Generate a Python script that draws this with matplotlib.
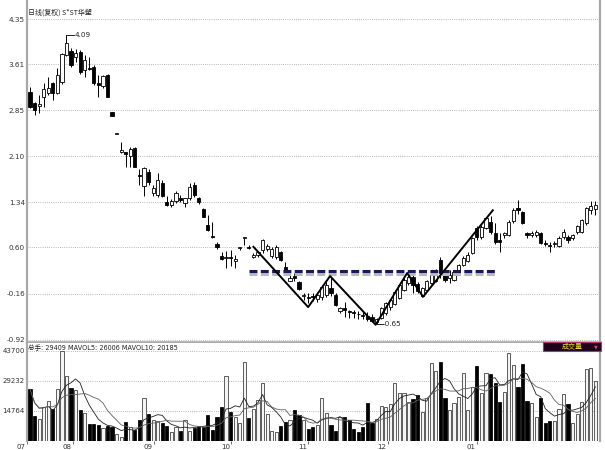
import matplotlib
matplotlib.use('Agg')
import matplotlib.pyplot as plt
import matplotlib.transforms as mtransforms
from matplotlib.patches import Rectangle
import numpy as np
import pandas as pd

plt.rcParams['font.family'] = ['DejaVu Sans', 'Noto Sans CJK SC']

# ---------------- data ----------------
opens = [3.15, 2.97, 2.92, 3.07, 3.13, 3.30, 3.13, 3.31, 3.76, 3.82,
         3.72, 3.81, 3.51, 3.55, 3.56, 3.30, 3.25, 3.43, 2.82, 2.46,
         2.16, 2.17, 2.10, 2.23, 1.78, 1.61, 1.84, 1.50, 1.46, 1.66,
         1.35, 1.30, 1.36, 1.41, 1.33, 1.41, 1.62, 1.41, 1.23, 0.97,
         0.78, 0.66, 0.46, 0.43, 0.44, 0.37, 0.59, 0.75, 0.61, 0.44,
         0.47, 0.56, 0.58, 0.46, 0.45, 0.52, 0.28, 0.05, 0.13, 0.03,
         -0.20, -0.22, -0.20, -0.25, -0.22, -0.18, -0.07, -0.18, -0.45, -0.40,
         -0.45, -0.47, -0.49, -0.51, -0.53, -0.55, -0.62, -0.56, -0.48, -0.38,
         -0.33, -0.23, -0.10, 0.02, 0.11, 0.00, -0.20, -0.10, 0.02, 0.05,
         0.39, 0.20, 0.10, 0.07, 0.18, 0.31, 0.38, 0.51, 0.92, 0.77,
         0.92, 1.02, 0.84, 0.72, 0.80, 0.80, 1.03, 1.25, 1.18, 0.84,
         0.80, 0.81, 0.84, 0.67, 0.64, 0.65, 0.62, 0.77, 0.77, 0.75,
         0.85, 0.85, 1.00, 1.22, 1.23]
highs = [3.23, 2.99, 3.10, 3.30, 3.40, 3.32, 3.55, 3.79, 4.09, 3.87,
         3.85, 3.84, 3.76, 3.73, 3.59, 3.43, 3.43, 3.45, 2.82, 2.46,
         2.33, 2.17, 2.25, 2.25, 1.88, 1.92, 1.88, 1.62, 1.82, 1.70,
         1.44, 1.40, 1.52, 1.46, 1.41, 1.65, 1.68, 1.43, 1.24, 1.13,
         1.02, 0.69, 0.52, 0.54, 0.56, 0.48, 0.60, 0.77, 0.64, 0.51,
         0.54, 0.74, 0.66, 0.61, 0.64, 0.54, 0.36, 0.15, 0.18, 0.05,
         -0.15, -0.15, -0.15, -0.14, -0.02, 0.04, 0.12, -0.15, -0.38, -0.30,
         -0.43, -0.43, -0.45, -0.46, -0.46, -0.50, -0.56, -0.38, -0.29, -0.24,
         -0.10, 0.00, 0.10, 0.18, 0.14, 0.03, -0.05, 0.07, 0.18, 0.25,
         0.44, 0.23, 0.23, 0.22, 0.33, 0.46, 0.52, 0.77, 0.95, 0.97,
         1.10, 1.12, 1.00, 0.84, 0.85, 1.05, 1.24, 1.38, 1.20, 0.86,
         0.87, 0.88, 0.85, 0.72, 0.69, 0.70, 0.78, 0.90, 0.80, 0.82,
         0.97, 1.07, 1.26, 1.36, 1.36]
lows = [2.89, 2.77, 2.81, 2.90, 3.10, 3.02, 3.12, 3.28, 3.74, 3.57,
        3.65, 3.44, 3.40, 3.51, 3.27, 3.07, 3.22, 3.07, 2.76, 2.46,
        2.15, 1.92, 1.92, 1.92, 1.62, 1.45, 1.62, 1.45, 1.43, 1.43,
        1.28, 1.27, 1.33, 1.35, 1.26, 1.38, 1.43, 1.32, 1.10, 0.87,
        0.76, 0.57, 0.39, 0.26, 0.29, 0.26, 0.56, 0.64, 0.57, 0.43,
        0.44, 0.51, 0.54, 0.43, 0.41, 0.38, 0.20, 0.05, 0.05, -0.10,
        -0.26, -0.31, -0.28, -0.30, -0.26, -0.22, -0.20, -0.36, -0.47, -0.55,
        -0.56, -0.56, -0.58, -0.58, -0.60, -0.63, -0.65, -0.58, -0.51, -0.42,
        -0.35, -0.25, -0.12, -0.02, -0.15, -0.15, -0.21, -0.12, 0.00, 0.03,
        0.10, 0.03, 0.02, 0.05, 0.15, 0.29, 0.36, 0.49, 0.72, 0.74,
        0.90, 0.82, 0.66, 0.52, 0.75, 0.78, 1.00, 1.15, 0.98, 0.76,
        0.77, 0.77, 0.66, 0.62, 0.53, 0.60, 0.60, 0.74, 0.67, 0.72,
        0.82, 0.83, 0.97, 1.15, 1.14]
closes = [2.90, 2.86, 2.95, 3.20, 3.22, 3.13, 3.43, 3.78, 3.95, 3.59,
          3.79, 3.48, 3.68, 3.53, 3.30, 3.27, 3.41, 3.07, 2.76, 2.46,
          2.20, 2.13, 2.22, 1.92, 1.77, 1.90, 1.67, 1.57, 1.71, 1.44,
          1.30, 1.36, 1.49, 1.38, 1.41, 1.59, 1.46, 1.35, 1.10, 0.89,
          0.77, 0.61, 0.41, 0.43, 0.43, 0.41, 0.59, 0.75, 0.59, 0.48,
          0.52, 0.72, 0.62, 0.57, 0.61, 0.39, 0.23, 0.10, 0.09, -0.08,
          -0.19, -0.23, -0.22, -0.18, -0.05, -0.02, -0.15, -0.35, -0.40, -0.43,
          -0.46, -0.48, -0.50, -0.52, -0.57, -0.61, -0.58, -0.40, -0.31, -0.26,
          -0.13, -0.02, 0.07, 0.12, -0.02, -0.12, -0.07, 0.05, 0.15, 0.20,
          0.18, 0.07, 0.15, 0.20, 0.31, 0.43, 0.48, 0.75, 0.77, 0.94,
          1.08, 0.85, 0.69, 0.69, 0.84, 1.02, 1.21, 1.21, 1.00, 0.80,
          0.84, 0.85, 0.67, 0.65, 0.62, 0.67, 0.75, 0.85, 0.72, 0.80,
          0.95, 1.05, 1.24, 1.28, 1.30]
volumes = [25200, 12350, 10900, 16840, 19580, 15720, 25200, 43680, 31630, 25680,
           24880, 15240, 13630, 8490, 8490, 8010, 6400, 7690, 6880, 3670,
           2060, 9290, 6880, 5600, 10420, 20860, 13310, 10420, 9940, 8810,
           7530, 4790, 6880, 5280, 10420, 5280, 6400, 7530, 6880, 12830,
           5600, 11700, 16840, 31630, 14430, 11700, 8810, 38210, 11220, 15560,
           20060, 28410, 13310, 5280, 4790, 7530, 9610, 10420, 15240, 12830,
           10420, 5920, 7200, 8010, 20860, 13950, 8010, 5280, 12020, 11700,
           10420, 5920, 4790, 6880, 18770, 9130, 10740, 17170, 16840, 18130,
           28410, 23270, 23270, 19250, 20380, 22470, 14430, 20860, 37730, 34200,
           38530, 20860, 15240, 18770, 21660, 32910, 15240, 26480, 36450, 23270,
           33230, 32590, 28410, 19250, 24070, 42550, 36930, 26480, 37410, 19740,
           18450, 11700, 20860, 8810, 9940, 10100, 15560, 22950, 17970, 9130,
           13310, 19250, 34840, 35320, 29409]

month_labels = ['07', '08', '09', '10', '11', '12', '01']
month_tick_idx = [-0.6, 9.4, 27.2, 44.1, 61.0, 78.5, 98.0]
price_ticks = [4.35, 3.61, 2.85, 2.10, 1.34, 0.60, -0.16, -0.92]
price_tick_labels = ['4.35', '3.61', '2.85', '2.10', '1.34', '0.60', '-0.16', '-0.92']
vol_ticks = [43700, 29232, 14764]
vol_tick_labels = ['43700', '29232', '14764']

# hand-drawn pattern on the chart
pattern_idx = [49.0, 61.0, 65.8, 75.8, 82.7, 86.2, 101.5]
pattern_price = [0.61, -0.38, 0.13, -0.67, 0.18, -0.21, 1.21]
neck_idx = [48.0, 102.0]
neck_price = 0.21
neck_shadow_price = 0.16

high_idx, high_val = 8, 4.09
low_idx, low_val = 76, -0.65

title = '日线(复权) S*ST华塑'
vol_header = '总手: 29409 MAVOL5: 26006 MAVOL10: 20185'
vol_box_label = '成交量'

# ---------------- figure ----------------
W, H = 605, 450
fig = plt.figure(figsize=(W / 100, H / 100), dpi=100)
fig.patch.set_facecolor('white')

def fx(px):
    return px / W

def fy(py):
    return 1 - py / H

ax = fig.add_axes([fx(27), fy(342), fx(600) - fx(27), fy(0) - fy(342)])
axv = fig.add_axes([fx(27), fy(441), fx(600) - fx(27), fy(343) - fy(441)])

o = np.array(opens); h = np.array(highs); l = np.array(lows); c = np.array(closes)
idx = np.arange(len(o))
up = c >= o

grid_kw = dict(color='#a0a0a0', lw=0.6, linestyle=(0, (1, 1.6)), zorder=1)

# price panel
for t in price_ticks:
    ax.axhline(t, **grid_kw)
ax.vlines(idx, l, h, color='black', lw=0.7, zorder=2)
bottom = np.minimum(o, c)
height = np.maximum(np.abs(c - o), 0.014)
ax.bar(idx[up], height[up], bottom=bottom[up], width=0.7, facecolor='white',
       edgecolor='black', linewidth=0.6, zorder=3)
ax.bar(idx[~up], height[~up], bottom=bottom[~up], width=0.7, facecolor='black',
       edgecolor='black', linewidth=0.6, zorder=3)

# neckline (navy dashed with grey shadow)
ax.plot(neck_idx, [neck_shadow_price] * 2, color='#b8b8c0', lw=2.2,
        linestyle=(0, (2.6, 1.1)), zorder=4)
ax.plot(neck_idx, [neck_price] * 2, color='#17185e', lw=2.2,
        linestyle=(0, (2.6, 1.1)), zorder=5)
# zigzag pattern
ax.plot(pattern_idx, pattern_price, color='black', lw=1.4, zorder=6)

# high / low markers
ax.plot([high_idx, high_idx + 1.6], [high_val, high_val], color='black', lw=0.6, zorder=6)
ax.text(high_idx + 1.7, high_val, f'{high_val:.2f}', fontsize=5.2, va='center',
        ha='left', color='#222222')
ax.plot([low_idx, low_idx + 1.4], [low_val, low_val], color='black', lw=0.6, zorder=6)
ax.text(low_idx + 1.4, low_val, f'{low_val:.2f}', fontsize=5.2, va='center',
        ha='left', color='#222222')

ax.text(0.002, 1 - 13 / 342, title, transform=ax.transAxes, fontsize=5.0,
        va='center', ha='left', color='#222222',
        family=['Noto Sans CJK SC', 'DejaVu Sans'])

ppu = 321 / 5.27
ax.set_ylim(-0.92 - 2 / ppu, 4.35 + 19 / ppu)
xl = (-3 / 4.56, 570 / 4.56)
ax.set_xlim(*xl)
ax.set_yticks(price_ticks)
ax.set_yticklabels(price_tick_labels)
ax.tick_params(axis='y', length=0, pad=1.5, labelsize=5.2, labelcolor='#333333')
ax.set_xticks([])
ax.spines['top'].set_visible(False)
for s in ['left', 'right']:
    ax.spines[s].set_color('#a8a8a8')
    ax.spines[s].set_linewidth(1.6)
ax.spines['bottom'].set_color('#a8a8a8')
ax.spines['bottom'].set_linewidth(1.8)

# volume panel
for t in vol_ticks:
    axv.axhline(t, **grid_kw)
v = np.array(volumes, dtype=float)
axv.bar(idx[up], v[up], width=0.7, facecolor='#f4f4f4', edgecolor='#333333',
        linewidth=0.55, zorder=3)
axv.bar(idx[~up], v[~up], width=0.7, facecolor='black', edgecolor='black',
        linewidth=0.55, zorder=3)
vs = pd.Series(v)
axv.plot(idx, vs.rolling(5, min_periods=1).mean(), color='#202020', lw=0.6, zorder=4)
axv.plot(idx, vs.rolling(10, min_periods=1).mean(), color='#606060', lw=0.6, zorder=4)
axv.set_xlim(*xl)
axv.set_ylim(296, 296 + 98 * 482)
axv.set_yticks(vol_ticks)
axv.set_yticklabels(vol_tick_labels)
axv.tick_params(axis='y', length=0, pad=1.5, labelsize=5.0, labelcolor='#333333')
axv.set_xticks(month_tick_idx)
axv.set_xticklabels([''] * len(month_tick_idx))
axv.tick_params(axis='x', direction='out', length=2.5, width=0.6, color='#555555')
trans = mtransforms.blended_transform_factory(axv.transData, axv.transAxes)
for lab, pos in zip(month_labels, month_tick_idx):
    axv.text(pos - 0.3, -0.065, lab, transform=trans, fontsize=5.0, ha='right',
             va='center', color='#333333')
axv.spines['top'].set_visible(False)
axv.spines['bottom'].set_visible(False)
for s in ['left', 'right']:
    axv.spines[s].set_color('#a8a8a8')
    axv.spines[s].set_linewidth(1.6)

axv.text(0.002, 1 - 4.5 / 98, vol_header, transform=axv.transAxes, fontsize=4.7,
         va='center', ha='left', color='#222222',
         family=['DejaVu Sans', 'Noto Sans CJK SC'])

# indicator box
fig.patches.append(Rectangle((fx(543), fy(351)), fx(601) - fx(543), fy(342) - fy(351),
                             transform=fig.transFigure, facecolor='#1c0418',
                             edgecolor='#b0307a', linewidth=0.8, zorder=10))
fig.text(fx(572), fy(346.5), vol_box_label, fontsize=5.0, color='#e8e030',
         ha='center', va='center', family=['Noto Sans CJK SC', 'DejaVu Sans'], zorder=11)
fig.text(fx(596), fy(346.5), '▼', fontsize=3.5, color='#d040a0', ha='center',
         va='center', zorder=11)

fig.savefig('out.png', dpi=100, facecolor='white')
